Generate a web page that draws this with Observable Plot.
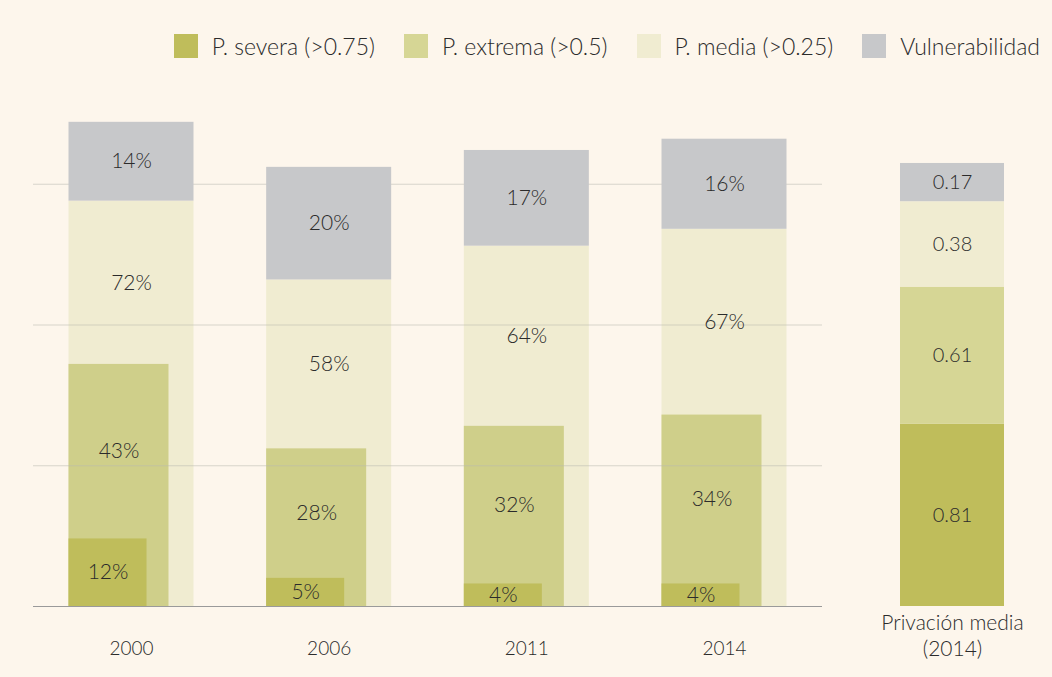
<!DOCTYPE html>
<html>
<head>
<meta charset="utf-8">
<script src="https://cdn.jsdelivr.net/npm/d3@7"></script>
<script src="https://cdn.jsdelivr.net/npm/@observablehq/plot@0.6"></script>
<style>
  html, body { margin: 0; padding: 0; background: #fdf6ec; }
  #wrap { width: 1052px; height: 677px; position: relative; font-family: Lato, "Open Sans", sans-serif; color: #2b2b2b; }
  #legend { height: 80px; display: flex; justify-content: flex-end; align-items: flex-start; padding-right: 12px; box-sizing: border-box; padding-top: 29px; }
  #charts { display: flex; }
  div.leg-swatches { font-family: Lato, "Open Sans", sans-serif; font-size: 23px; font-weight: 300; color: #2b2b2b; margin: 0; }
  div.leg-swatches .leg-swatch { margin-right: 29px !important; }
  div.leg-swatches .leg-swatch:last-child { margin-right: 0 !important; }
  div.leg-swatches .leg-swatch > svg { margin-right: 14px !important; }
</style>
</head>
<body>
<div id="wrap">
  <div id="legend"></div>
  <div id="charts"></div>
</div>
<script>
// ---- data ----
const years = ["2000", "2006", "2011", "2014"];
const severa = [12, 5, 4, 4];
const extrema = [43, 28, 32, 34];
const media = [72, 58, 64, 67];
const vulnerabilidad = [14, 20, 17, 16];
const gridTicks = [25, 50, 75];
const seriesNames = ["P. severa (>0.75)", "P. extrema (>0.5)", "P. media (>0.25)", "Vulnerabilidad"];
const privCategory = "Privación media (2014)";
const privValues = [0.81, 0.61, 0.38, 0.17];

// ---- styles ----
const seriesColors = ["#bfbd5b", "#d6d695", "#f0ecd1", "#c7c8ca"];
const extremaOverlay = "#cfcf8a";
const textColor = "#2b2b2b";
const font = "Lato, 'Open Sans', sans-serif";

const rows = years.map((year, i) => ({
  year, severa: severa[i], extrema: extrema[i], media: media[i], vuln: vulnerabilidad[i]
}));
const privRows = seriesNames.map((s, i) => ({cat: privCategory, series: s, value: privValues[i]}));

// legend
const legend = Plot.legend({
  color: {type: "ordinal", domain: seriesNames, range: seriesColors},
  legend: "swatches",
  swatchSize: 24,
  className: "leg"
});
document.getElementById("legend").append(legend);

const common = {fontFamily: font, fontSize: "20px", fontWeight: 300, background: "transparent", color: textColor, overflow: "visible"};

const left = Plot.plot({
  width: 850, height: 597,
  marginLeft: 33, marginRight: 28, marginTop: 19.3, marginBottom: 71,
  style: common,
  x: {domain: years, paddingInner: 0.3676, paddingOuter: 0.1796, round: false, label: null},
  y: {domain: [0, 90], axis: null},
  marks: [
    Plot.barY(rows, {x: "year", y: "media", fill: seriesColors[2]}),
    Plot.barY(rows, {x: "year", y: "extrema", fill: extremaOverlay, insetRight: 25}),
    Plot.barY(rows, {x: "year", y: "severa", fill: seriesColors[0], insetRight: 47}),
    Plot.ruleY(gridTicks, {stroke: "#b9b9b0", strokeOpacity: 0.55}),
    Plot.barY(rows, {x: "year", y1: "media", y2: d => d.media + d.vuln, fill: seriesColors[3]}),
    Plot.ruleY([0], {stroke: "#9a9a9a", strokeWidth: 1.2}),
    Plot.text(rows, {x: "year", y: d => d.media + d.vuln / 2, text: d => d.vuln + "%", fill: textColor, fontSize: 21}),
    Plot.text(rows, {x: "year", y: d => (d.media + d.extrema) / 2, text: d => d.media + "%", fill: textColor, fontSize: 21}),
    Plot.text(rows, {x: "year", y: d => (d.extrema + d.severa) / 2, text: d => d.extrema + "%", fill: textColor, fontSize: 21, dx: -12.5}),
    Plot.text(rows, {x: "year", y: d => d.severa / 2, text: d => d.severa + "%", fill: textColor, fontSize: 21, dx: -23.5}),
    Plot.axisX({tickSize: 0, tickPadding: 35, fontSize: 19, fill: textColor})
  ]
});

const right = Plot.plot({
  width: 202, height: 597,
  marginLeft: 50, marginRight: 48, marginTop: 20, marginBottom: 71,
  style: common,
  x: {domain: [privCategory], padding: 0, round: false, label: null},
  y: {domain: [0, 2.25], axis: null},
  color: {domain: seriesNames, range: seriesColors},
  marks: [
    Plot.barY(privRows, {x: "cat", y: "value", fill: "series"}),
    Plot.text(privRows, Plot.stackY({x: "cat", y: "value", z: "series", text: d => d.value.toFixed(2), fill: textColor, fontSize: 20})),
    Plot.axisX({tickSize: 0, tickPadding: 5, fontSize: 21, lineHeight: 1.25, fill: textColor, tickFormat: () => "Privación media\n(2014)"})
  ]
});

const charts = document.getElementById("charts");
charts.append(left, right);
</script>
</body>
</html>
